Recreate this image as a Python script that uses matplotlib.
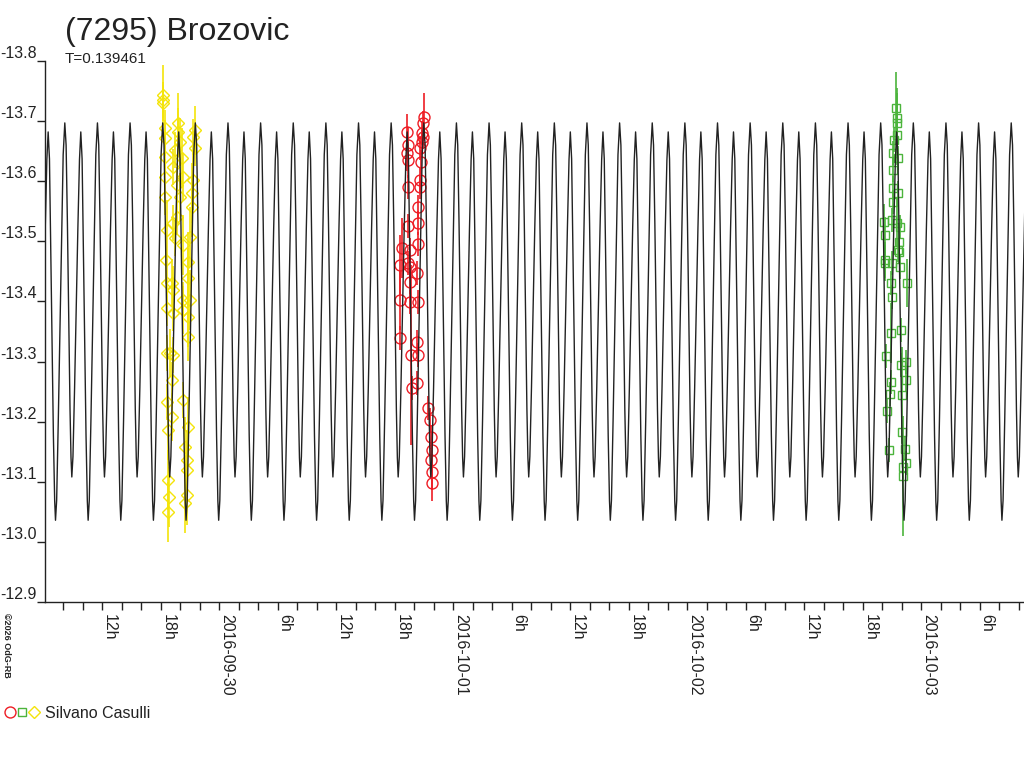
import matplotlib
matplotlib.use('Agg')
import numpy as np
import matplotlib.pyplot as plt
from matplotlib.lines import Line2D
from matplotlib.ticker import MultipleLocator
from matplotlib.legend_handler import HandlerTuple

plt.rcParams['font.family'] = ['Liberation Sans', 'DejaVu Sans']

# rotation period (days) and model lightcurve over one period
period_days = 0.139461
epoch_h = 8.185  # time of the brighter maximum, hours since 2016-09-29 00:00 UT
tmpl_phase = [0.00, 0.04, 0.08, 0.12, 0.16, 0.19, 0.215,
              0.25, 0.30, 0.35, 0.40, 0.45, 0.49,
              0.53, 0.57, 0.61, 0.65, 0.69, 0.715,
              0.75, 0.80, 0.85, 0.90, 0.95]
tmpl_mag = [-13.697, -13.66, -13.53, -13.37, -13.22, -13.14, -13.108,
            -13.142, -13.257, -13.389, -13.521, -13.636, -13.682,
            -13.637, -13.488, -13.327, -13.178, -13.068, -13.036,
            -13.069, -13.201, -13.347, -13.499, -13.644]

# observations, hours since 2016-09-29 00:00 UT
yel_t = [18.23, 18.23, 18.26, 18.46, 18.46, 18.46, 18.46, 18.46, 18.67, 18.56,
         18.67, 18.67, 18.67, 18.67, 18.77, 18.77, 18.87, 18.77,
         19.79, 19.79, 20.00, 19.49, 20.21, 19.28, 20.31, 19.69, 20.00, 19.69,
         19.28, 19.49, 20.31, 19.18, 19.28, 20.31, 19.28, 20.31, 18.97, 19.28,
         19.18, 20.31, 19.18, 20.82, 20.51, 20.72, 20.72, 20.72, 20.51,
         21.54, 21.33, 21.54, 21.33, 21.23, 21.23, 21.03, 20.82, 20.82, 21.03,
         20.82, 20.82]
yel_m = [-13.743, -13.735, -13.730, -13.689, -13.672, -13.640, -13.607, -13.574, -13.519, -13.469,
         -13.431, -13.389, -13.314, -13.233, -13.186, -13.103, -13.075, -13.050,
         -13.697, -13.682, -13.665, -13.652, -13.639, -13.624, -13.607, -13.594, -13.574, -13.540,
         -13.530, -13.506, -13.494, -13.431, -13.419, -13.402, -13.381, -13.386, -13.314, -13.311,
         -13.269, -13.236, -13.208, -13.191, -13.158, -13.136, -13.120, -13.078, -13.065,
         -13.685, -13.674, -13.655, -13.602, -13.580, -13.557, -13.507, -13.466, -13.439, -13.402,
         -13.374, -13.341]
yel_e = [0.05, 0.03, 0.03, 0.03, 0.03, 0.03, 0.03, 0.03, 0.05, 0.04,
         0.04, 0.03, 0.03, 0.03, 0.05, 0.05, 0.05, 0.05,
         0.05, 0.04, 0.04, 0.03, 0.05, 0.03, 0.04, 0.03, 0.04, 0.03,
         0.03, 0.03, 0.05, 0.04, 0.04, 0.03, 0.03, 0.04, 0.04, 0.03,
         0.03, 0.03, 0.04, 0.05, 0.05, 0.05, 0.05, 0.05, 0.05,
         0.04, 0.03, 0.03, 0.05, 0.05, 0.05, 0.05, 0.05, 0.05, 0.05,
         0.05, 0.04]

red_t = [45.03, 44.92, 43.28, 44.82, 44.92, 44.82, 43.39, 44.62, 43.28, 43.39,
         44.72, 44.62, 43.39, 44.62, 44.41, 43.39, 44.41, 44.41, 42.77, 43.59,
         43.39, 42.56, 43.59, 44.31, 43.59, 42.56, 43.59, 44.41, 42.56, 44.31,
         43.69, 44.41, 43.80, 44.31, 45.44, 45.64, 45.74, 45.85, 45.74, 45.85,
         45.85]
red_m = [-13.707, -13.697, -13.682, -13.680, -13.674, -13.665, -13.660, -13.655, -13.647, -13.635,
         -13.632, -13.602, -13.590, -13.590, -13.557, -13.526, -13.530, -13.496, -13.489, -13.486,
         -13.464, -13.461, -13.457, -13.447, -13.432, -13.402, -13.399, -13.399, -13.339, -13.333,
         -13.311, -13.311, -13.256, -13.264, -13.223, -13.203, -13.174, -13.153, -13.136, -13.116,
         -13.098]
red_e = [0.04, 0.02, 0.03, 0.02, 0.02, 0.02, 0.03, 0.02, 0.03, 0.03,
         0.02, 0.02, 0.02, 0.02, 0.02, 0.02, 0.02, 0.02, 0.05, 0.02,
         0.02, 0.05, 0.02, 0.02, 0.02, 0.05, 0.02, 0.02, 0.02, 0.02,
         0.15, 0.02, 0.02, 0.02, 0.02, 0.02, 0.02, 0.03, 0.02, 0.03,
         0.03]

grn_t = [93.44, 93.54, 93.54, 93.54, 93.23, 93.13, 93.64, 93.13, 93.13, 93.64,
         93.13, 92.21, 93.03, 93.54, 93.85, 92.31, 93.74, 93.64, 93.74, 92.31,
         92.31, 93.03, 93.85, 92.92, 94.56, 93.03, 92.92, 93.95, 92.41, 93.95,
         94.46, 92.92, 94.46, 92.82, 94.05, 92.51, 94.05, 92.72, 94.36, 94.15,
         94.46, 94.15]
grn_m = [-13.722, -13.705, -13.697, -13.677, -13.669, -13.647, -13.639, -13.619, -13.589, -13.580,
         -13.565, -13.532, -13.535, -13.530, -13.524, -13.511, -13.499, -13.486, -13.482, -13.469,
         -13.464, -13.464, -13.457, -13.431, -13.431, -13.407, -13.347, -13.352, -13.309, -13.294,
         -13.299, -13.266, -13.269, -13.246, -13.244, -13.218, -13.183, -13.153, -13.155, -13.125,
         -13.131, -13.110]
grn_e = [0.06, 0.05, 0.05, 0.05, 0.02, 0.02, 0.02, 0.02, 0.02, 0.02,
         0.02, 0.03, 0.02, 0.04, 0.02, 0.03, 0.03, 0.02, 0.02, 0.03,
         0.03, 0.02, 0.02, 0.02, 0.04, 0.02, 0.05, 0.02, 0.02, 0.02,
         0.02, 0.02, 0.02, 0.02, 0.08, 0.02, 0.02, 0.02, 0.02, 0.02,
         0.02, 0.10]

ytick_vals = [-13.8, -13.7, -13.6, -13.5, -13.4, -13.3, -13.2, -13.1, -13.0, -12.9]
ytick_labels = ['-13.8', '-13.7', '-13.6', '-13.5', '-13.4', '-13.3', '-13.2', '-13.1', '-13.0', '-12.9']
xtick_hours = [12, 18, 24, 30, 36, 42, 48, 54, 60, 66, 72, 78, 84, 90, 96, 102]
xtick_labels = ['12h', '18h', '2016-09-30', '6h', '12h', '18h', '2016-10-01', '6h',
                '12h', '18h', '2016-10-02', '6h', '12h', '18h', '2016-10-03', '6h']

RED = '#ee1c24'
GREEN = '#4cb43c'
YELLOW = '#f4e40a'
INK = '#222222'

fig = plt.figure(figsize=(10.24, 7.68), dpi=100)
ax = fig.add_axes([45 / 1024, 1 - 602 / 768, (1024 - 45) / 1024, (602 - 61) / 768])

# observations with error bars
sets = [(yel_t, yel_m, yel_e, YELLOW, 'D', 6.0),
        (red_t, red_m, red_e, RED, 'o', 7.9),
        (grn_t, grn_m, grn_e, GREEN, 's', 6.0)]
for t, m, e, c, mk, ms in sets:
    ax.errorbar(t, m, yerr=e, fmt='none', ecolor=c, elinewidth=1.2, zorder=2)
    ax.plot(t, m, ls='none', marker=mk, ms=ms, mfc='none', mec=c, mew=1.0, zorder=3)

# model curve, the one-period template repeated at the rotation period
period_h = period_days * 24
cycles = np.arange(-2, 33)
t_model = (epoch_h + (cycles[:, None] + np.array(tmpl_phase)[None, :]) * period_h).ravel()
m_model = np.tile(tmpl_mag, len(cycles))
ax.plot(t_model, m_model, color=INK, lw=1.0, zorder=4)

ax.set_xlim(6.154, 106.56)
ax.set_ylim(-12.9, -13.8)

for s in ['top', 'right']:
    ax.spines[s].set_visible(False)
for s in ['left', 'bottom']:
    ax.spines[s].set_color(INK)
    ax.spines[s].set_linewidth(1.0)

ax.set_yticks(ytick_vals)
ax.set_yticklabels(ytick_labels)
ax.set_xticks(xtick_hours)
ax.set_xticklabels(xtick_labels)
ax.xaxis.set_minor_locator(MultipleLocator(2))
ax.tick_params(axis='y', which='both', direction='out', length=5.8, width=1, pad=0,
               colors=INK, labelsize=11.5)
ax.tick_params(axis='x', which='both', direction='out', length=5.8, width=1, pad=3.0,
               colors=INK, labelsize=11.5)
for lbl in ax.get_yticklabels():
    lbl.set_verticalalignment('bottom')
for lbl in ax.get_xticklabels():
    lbl.set_rotation(-90)
    lbl.set_horizontalalignment('left')
    lbl.set_verticalalignment('top')

fig.text(65 / 1024, 1 - 40 / 768, '(7295) Brozovic', fontsize=23, color=INK, va='baseline', ha='left')
fig.text(65 / 1024, 1 - 63 / 768, 'T=0.139461', fontsize=11, color=INK, va='baseline', ha='left')
fig.text(2 / 1024, 1 - 613 / 768, '\u00a92026 OdG-RB', fontsize=6.5, color=INK, rotation=-90,
         va='top', ha='left', fontweight='bold')

h_red = Line2D([], [], ls='none', marker='o', ms=7.9, mfc='none', mec=RED, mew=1.0)
h_grn = Line2D([], [], ls='none', marker='s', ms=6.0, mfc='none', mec=GREEN, mew=1.0)
h_yel = Line2D([], [], ls='none', marker='D', ms=6.0, mfc='none', mec=YELLOW, mew=1.0)
fig.legend([(h_red, h_grn, h_yel)], ['Silvano Casulli'],
           handler_map={tuple: HandlerTuple(ndivide=None, pad=0)},
           loc='center left', bbox_to_anchor=(4 / 1024, 1 - 713 / 768),
           frameon=False, fontsize=11.5, handlelength=2.25, handletextpad=0.3,
           borderpad=0, borderaxespad=0, labelcolor=INK)

fig.savefig('out.png', dpi=100)
